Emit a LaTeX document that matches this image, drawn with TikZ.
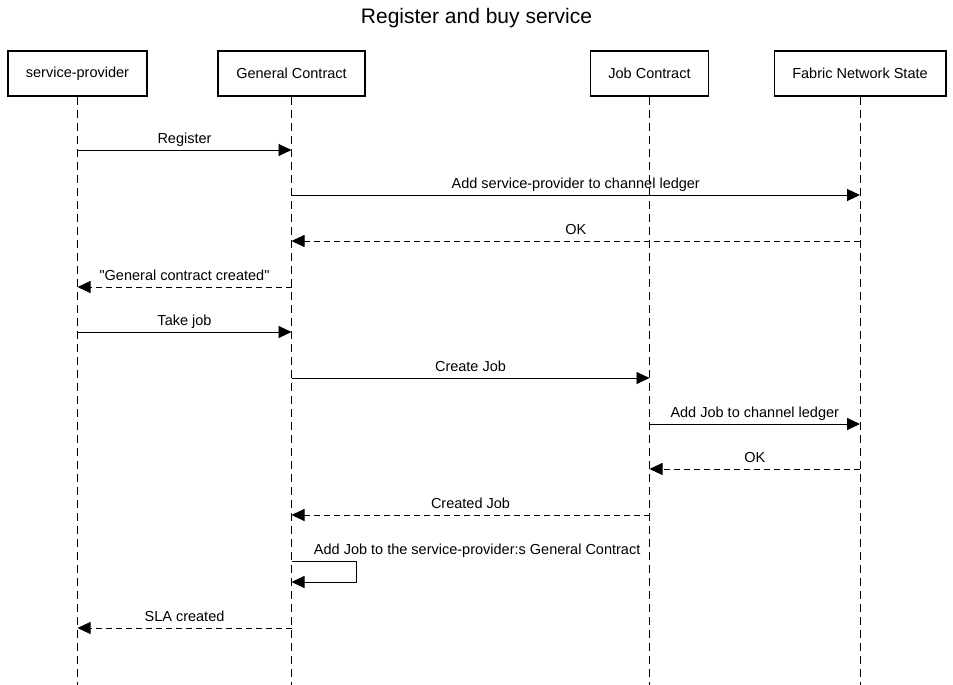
\documentclass[tikz,border=0pt]{standalone}
\usepackage{fontspec}
\setmainfont{Liberation Sans}[Ligatures=TeXOff]
\usetikzlibrary{arrows.meta}
\begin{document}
\begin{tikzpicture}[x=1pt,y=-1pt,
  actor/.style={draw,line width=1.6pt,inner xsep=18pt,minimum height=45pt,font=\fontsize{14.5}{17}\selectfont},
  lifeline/.style={line width=0.9pt,dash pattern=on 8pt off 5pt},
  msg/.style={line width=0.9pt,-{Triangle[length=13pt,width=12pt]}},
  reply/.style={msg,dash pattern=on 6pt off 4pt},
  lbl/.style={above,inner sep=3pt,text depth=3.5pt,font=\fontsize{14.5}{17}\selectfont}]
\useasboundingbox (0,0) rectangle (953,685);
\node (title) at (476.5,18) {\fontsize{21}{25}\selectfont Register and buy service};
\node[actor] (sp) at (77.5,73.5) {service-provider};
\node[actor] (gc) at (291.5,73.5) {General Contract};
\node[actor] (jc) at (649.5,73.5) {Job Contract};
\node[actor] (fn) at (860,73.5) {Fabric Network State};
\foreach \n in {sp,gc,jc,fn} \draw[lifeline] (\n) -- (\n |- 0,685);
\foreach \a/\b/\y/\s/\t in {sp/gc/150/msg/Register,gc/fn/195/msg/Add service-provider to channel ledger,fn/gc/241/reply/OK,gc/sp/287/reply/"General contract created",sp/gc/332/msg/Take job,gc/jc/378/msg/Create Job,jc/fn/424/msg/Add Job to channel ledger,fn/jc/469/reply/OK,jc/gc/515/reply/Created Job,gc/sp/628/reply/SLA created}
  \draw[\s] (\a |- 0,\y) -- node[lbl] {\t} (\b |- 0,\y);
\draw[msg] (gc |- 0,561) -- node[lbl,pos=0,anchor=south west,xshift=19pt] {Add Job to the service-provider:s General Contract} ++(65,0) |- (gc |- 0,582);
\end{tikzpicture}
\end{document}
